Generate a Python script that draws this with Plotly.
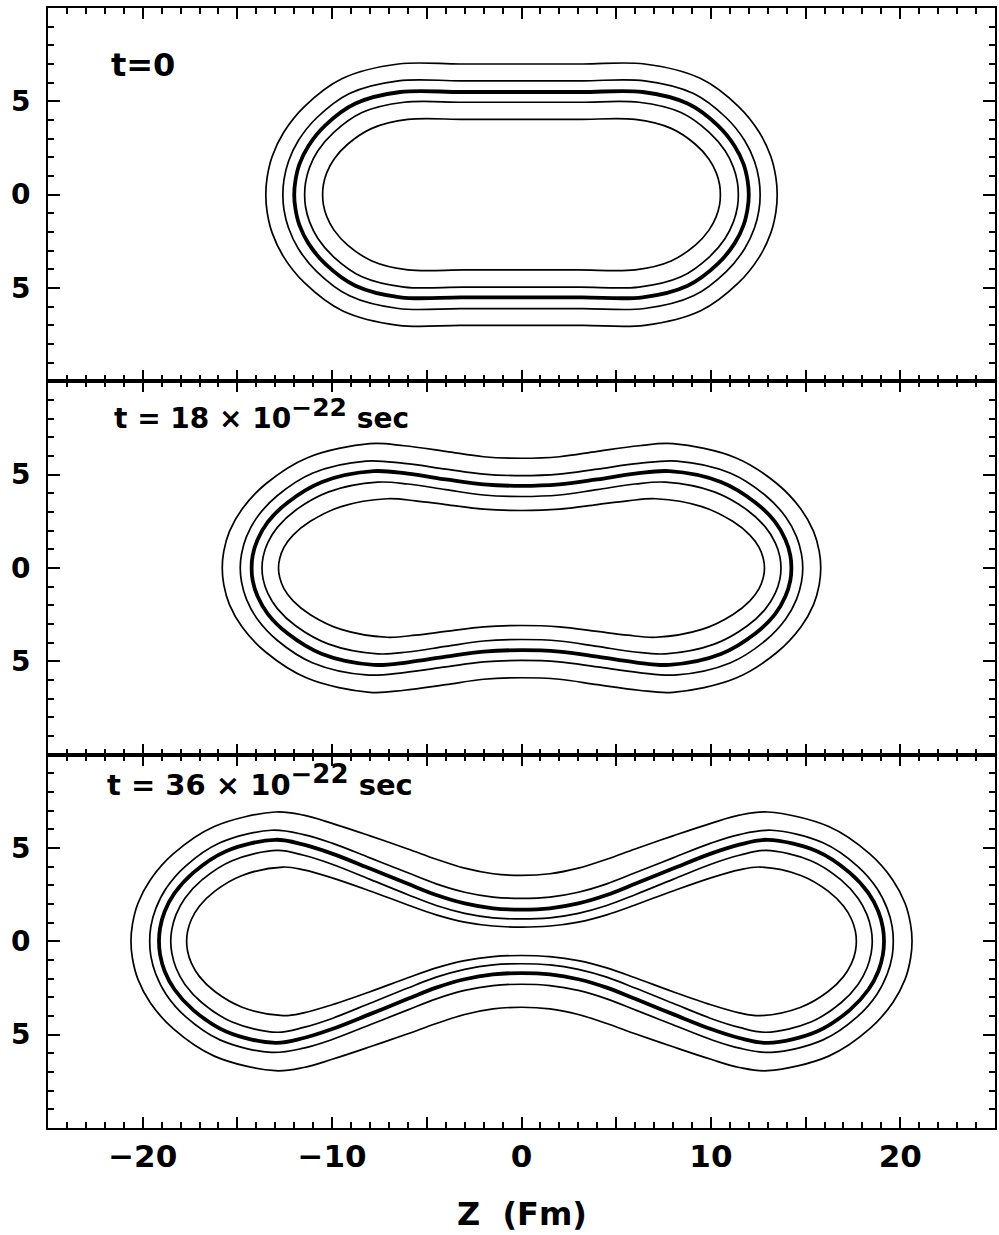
import plotly.graph_objects as go
from plotly.subplots import make_subplots

# ---- data: upper-right quarter of each density contour, (z [fm], rho [fm]) ----
# contour order: outermost -> innermost ; index 2 is the heavy (half-density) line

# t = 0
t0_c1 = [(0, 7.0), (3.25, 7.0), (6.5, 7.0), (9.46, 6.22), (11.45, 4.73), (12.56, 3.33), (13.16, 2.06), (13.43, 0.93), (13.5, 0)]
t0_c2 = [(0, 6.1), (3.25, 6.1), (6.5, 6.1), (9.08, 5.42), (10.81, 4.12), (11.78, 2.90), (12.30, 1.79), (12.54, 0.81), (12.6, 0)]
t0_c3 = [(0, 5.5), (3.2, 5.5), (6.4, 5.5), (8.77, 4.88), (10.36, 3.71), (11.25, 2.61), (11.73, 1.62), (11.94, 0.73), (12.0, 0)]
t0_c4 = [(0, 4.95), (3.1, 4.95), (6.2, 4.95), (8.42, 4.40), (9.91, 3.34), (10.75, 2.35), (11.19, 1.46), (11.40, 0.66), (11.45, 0)]
t0_c5 = [(0, 4.03), (3.0, 4.03), (6.0, 4.03), (7.90, 3.55), (9.18, 2.70), (9.90, 1.90), (10.28, 1.18), (10.46, 0.53), (10.5, 0)]

# t = 18e-22 s
t18_c1 = [(0, 5.88), (2.0, 5.96), (4.0, 6.25), (6.2, 6.55), (8.0, 6.66), (11.30, 5.91), (13.51, 4.50), (14.75, 3.16), (15.42, 1.96), (15.72, 0.89), (15.8, 0)]
t18_c2 = [(0, 4.95), (2.0, 5.03), (4.0, 5.30), (6.2, 5.60), (8.2, 5.73), (11.01, 5.09), (12.90, 3.87), (13.96, 2.72), (14.52, 1.68), (14.78, 0.76), (14.85, 0)]
t18_c3 = [(0, 4.40), (2.0, 4.48), (4.0, 4.75), (6.0, 5.05), (7.8, 5.19), (10.53, 4.61), (12.36, 3.50), (13.39, 2.47), (13.93, 1.53), (14.19, 0.69), (14.25, 0)]
t18_c4 = [(0, 3.83), (2.0, 3.91), (4.0, 4.20), (6.0, 4.50), (7.6, 4.60), (10.18, 4.08), (11.91, 3.11), (12.88, 2.19), (13.40, 1.35), (13.64, 0.61), (13.7, 0)]
t18_c5 = [(0, 3.08), (2.0, 3.15), (4.0, 3.40), (5.6, 3.60), (7.1, 3.71), (9.52, 3.29), (11.15, 2.50), (12.06, 1.76), (12.55, 1.09), (12.77, 0.49), (12.83, 0)]

# t = 36e-22 s
t36_c1 = [(0, 3.53), (1.5, 3.62), (3, 3.92), (4.5, 4.4), (6, 4.95), (8, 5.65), (10, 6.32), (11.5, 6.76), (13.0, 6.93), (16.22, 6.15), (18.39, 4.68), (19.60, 3.29), (20.25, 2.04), (20.54, 0.92), (20.62, 0)]
t36_c2 = [(0, 2.3), (1.5, 2.37), (3, 2.63), (4.5, 3.08), (6, 3.67), (8, 4.47), (10, 5.26), (11.5, 5.72), (13.2, 5.95), (15.92, 5.28), (17.75, 4.02), (18.77, 2.83), (19.31, 1.75), (19.57, 0.79), (19.63, 0)]
t36_c3 = [(0, 1.7), (1.5, 1.77), (3, 2.03), (4.5, 2.48), (6, 3.08), (8, 3.9), (10, 4.7), (11.5, 5.18), (13.0, 5.44), (15.60, 4.83), (17.34, 3.67), (18.32, 2.58), (18.84, 1.60), (19.08, 0.72), (19.14, 0)]
t36_c4 = [(0, 1.2), (1.5, 1.26), (3, 1.5), (4.5, 1.92), (6, 2.5), (8, 3.32), (10, 4.13), (11.5, 4.61), (12.9, 4.87), (15.28, 4.32), (16.87, 3.29), (17.77, 2.31), (18.24, 1.43), (18.46, 0.65), (18.52, 0)]
t36_c5 = [(0, 0.76), (1.5, 0.82), (3, 1.03), (4.5, 1.42), (6, 1.95), (8, 2.7), (10, 3.4), (11.5, 3.83), (12.6, 3.98), (14.75, 3.53), (16.19, 2.69), (17.0, 1.89), (17.43, 1.17), (17.63, 0.53), (17.68, 0)]

panel_labels = ["t=0",
                "t = 18 \u00d7 10<sup><span style='font-size:25px'>\u221222</span></sup> sec",
                "t = 36 \u00d7 10<sup><span style='font-size:26px'>\u221222</span></sup> sec"]
panel_contours = [[t0_c1, t0_c2, t0_c3, t0_c4, t0_c5],
                  [t18_c1, t18_c2, t18_c3, t18_c4, t18_c5],
                  [t36_c1, t36_c2, t36_c3, t36_c4, t36_c5]]

x_major = [-20, -15, -10, -5, 0, 5, 10, 15, 20]
x_major_text = ["\u221220", "", "\u221210", "", "0", "", "10", "", "20"]
x_minor = [v for v in range(-24, 25) if v % 5 != 0]
y_major = [-5, 0, 5]
y_major_text = ["5", "0", "5"]
y_minor = [v for v in range(-9, 10) if v % 5 != 0]


def closed_curve(quarter):
    ur = list(quarter)
    lr = [(z, -r) for (z, r) in reversed(quarter)][1:]
    ll = [(-z, -r) for (z, r) in quarter][1:]
    ul = [(-z, r) for (z, r) in reversed(quarter)][1:]
    pts = ur + lr + ll + ul
    return [p[0] for p in pts], [p[1] for p in pts]


fig = make_subplots(rows=3, cols=1, shared_xaxes=True, vertical_spacing=0)

FONT = "DejaVu Sans"

for row, contours in enumerate(panel_contours, start=1):
    for i, quarter in enumerate(contours):
        xs, ys = closed_curve(quarter)
        fig.add_trace(go.Scatter(
            x=xs, y=ys, mode="lines",
            line=dict(color="black", width=3.8 if i == 2 else 1.7, shape="spline", smoothing=1.0),
            hoverinfo="skip", showlegend=False), row=row, col=1)

    fig.update_xaxes(
        range=[-25, 25], tickmode="array", tickvals=x_major, ticktext=x_major_text,
        ticks="inside", ticklen=11, tickwidth=2, tickcolor="black",
        showline=True, linecolor="black", linewidth=2, mirror="ticks",
        showgrid=False, zeroline=False,
        tickfont=dict(family=FONT, size=31, color="black", weight="bold"),
        ticklabelstandoff=0,
        minor=dict(ticks="inside", tickmode="array", tickvals=x_minor, ticklen=6, tickwidth=1.8,
                   tickcolor="black", showgrid=False),
        row=row, col=1)
    fig.update_yaxes(
        range=[-10, 10], tickmode="array", tickvals=y_major, ticktext=y_major_text,
        ticks="inside", ticklen=12, tickwidth=2, tickcolor="black",
        showline=True, linecolor="black", linewidth=2, mirror="ticks",
        showgrid=False, zeroline=False,
        tickfont=dict(family=FONT, size=28, color="black", weight="bold"),
        ticklabelstandoff=10,
        minor=dict(ticks="inside", tickmode="array", tickvals=y_minor, ticklen=6, tickwidth=1.8,
                   tickcolor="black", showgrid=False),
        row=row, col=1)

# panel time labels
label_pos = [(-21.8, 6.95), (-21.6, 8.25), (-22.0, 8.6)]
label_size = [32, 28, 29]
for row, (txt, (lx, ly), fs) in enumerate(zip(panel_labels, label_pos, label_size), start=1):
    xref = "x" if row == 1 else f"x{row}"
    yref = "y" if row == 1 else f"y{row}"
    fig.add_annotation(x=lx, y=ly, xref=xref, yref=yref, text=txt, showarrow=False,
                       xanchor="left", yanchor="middle",
                       font=dict(family=FONT, size=fs, color="black", weight="bold"))

fig.add_annotation(x=0.5, y=-0.0765, xref="paper", yref="paper", text="Z  (Fm)",
                   showarrow=False, xanchor="center", yanchor="middle",
                   font=dict(family=FONT, size=32, color="black", weight="bold"))

fig.update_layout(
    width=999, height=1235,
    margin=dict(l=48, r=2, t=8, b=107),
    paper_bgcolor="white", plot_bgcolor="white",
    showlegend=False,
)

fig.write_html("out.html")
